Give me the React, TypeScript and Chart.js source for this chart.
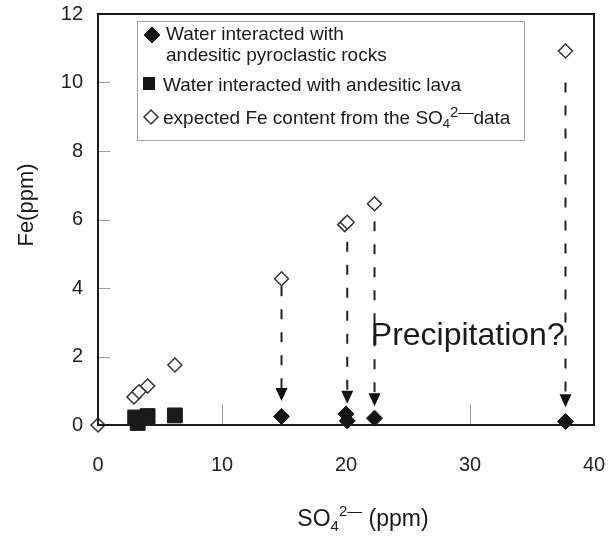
import React, { useEffect, useRef } from "react";
import { Chart, registerables } from "chart.js";
Chart.register(...registerables);

// Water interacted with andesitic pyroclastic rocks (filled diamonds)
const pyroX = [14.8, 20.0, 20.1, 22.3, 37.7];
const pyroY = [0.25, 0.32, 0.12, 0.2, 0.1];
// Water interacted with andesitic lava (filled squares)
const lavaX = [3.0, 3.2, 4.0, 6.2];
const lavaY = [0.22, 0.06, 0.26, 0.28];
// expected Fe content from the SO4 data (open diamonds)
const expX = [0, 2.9, 3.3, 4.0, 6.2, 14.8, 19.9, 20.1, 22.3, 37.7];
const expY = [0, 0.82, 0.97, 1.14, 1.75, 4.27, 5.85, 5.92, 6.46, 10.92];
// dashed arrows (x, from y, to y)
const arrowX = [14.8, 20.1, 22.3, 37.7];
const arrowFrom = [4.05, 5.35, 5.95, 10.0];
const arrowTo = [0.7, 0.62, 0.55, 0.52];
// axis ticks
const xTickValues = [10, 20, 30];
const yTickValues = [2, 4, 6, 8, 10];
const legendLine1 = ["Water interacted with", "andesitic pyroclastic rocks"];
const legendLine2 = "Water interacted with andesitic lava";
const legendLine3 = ["expected Fe content from the SO", "4", "2\u2014", "data"];
const annotationText = "Precipitation?";
const yTitle = "Fe(ppm)";

const FONT = '"Liberation Sans", Arial, sans-serif';

function toPts(xs: number[], ys: number[]) {
  return xs.map((x, i) => ({ x, y: ys[i] }));
}

function drawDiamond(ctx: CanvasRenderingContext2D, x: number, y: number, r: number, fill: string, stroke: string, lw: number) {
  ctx.beginPath();
  ctx.moveTo(x - r, y);
  ctx.lineTo(x, y - r);
  ctx.lineTo(x + r, y);
  ctx.lineTo(x, y + r);
  ctx.closePath();
  ctx.fillStyle = fill;
  ctx.fill();
  ctx.lineWidth = lw;
  ctx.strokeStyle = stroke;
  ctx.stroke();
}

type Part = { t: string; size: number; dy: number };
function drawRich(ctx: CanvasRenderingContext2D, parts: Part[], x: number, y: number, align: "left" | "center") {
  let total = 0;
  parts.forEach((p) => {
    ctx.font = `${p.size}px ${FONT}`;
    total += ctx.measureText(p.t).width;
  });
  let cx = align === "center" ? x - total / 2 : x;
  ctx.textAlign = "left";
  parts.forEach((p) => {
    ctx.font = `${p.size}px ${FONT}`;
    ctx.fillText(p.t, cx, y + p.dy);
    cx += ctx.measureText(p.t).width;
  });
}

const decor = {
  id: "decor",
  beforeDatasetsDraw(chart: any) {
    const ctx: CanvasRenderingContext2D = chart.ctx;
    const xs = chart.scales.x;
    const ys = chart.scales.y;
    const { left, bottom } = chart.chartArea;
    ctx.save();
    // inner tick marks
    ctx.strokeStyle = "#9a9a9a";
    ctx.lineWidth = 1;
    yTickValues.forEach((v) => {
      const py = Math.round(ys.getPixelForValue(v)) + 0.5;
      ctx.beginPath();
      ctx.moveTo(left, py);
      ctx.lineTo(left + 12, py);
      ctx.stroke();
    });
    xTickValues.forEach((v) => {
      const px = Math.round(xs.getPixelForValue(v)) + 0.5;
      ctx.beginPath();
      ctx.moveTo(px, bottom);
      ctx.lineTo(px, bottom - 20);
      ctx.stroke();
    });
    // arrows
    arrowX.forEach((ax, i) => {
      const px = xs.getPixelForValue(ax);
      const y0 = ys.getPixelForValue(arrowFrom[i]);
      const tip = ys.getPixelForValue(arrowTo[i]);
      const headH = 13;
      ctx.setLineDash([10, 13]);
      ctx.strokeStyle = "#222";
      ctx.lineWidth = 2;
      ctx.beginPath();
      ctx.moveTo(px, y0);
      ctx.lineTo(px, tip - headH);
      ctx.stroke();
      ctx.setLineDash([]);
      ctx.fillStyle = "#111";
      ctx.beginPath();
      ctx.moveTo(px - 6, tip - headH);
      ctx.lineTo(px + 6, tip - headH);
      ctx.lineTo(px, tip);
      ctx.closePath();
      ctx.fill();
    });
    ctx.restore();
  },
  afterDraw(chart: any) {
    const ctx: CanvasRenderingContext2D = chart.ctx;
    const { left, top, right, bottom } = chart.chartArea;
    const xs = chart.scales.x;
    const ys = chart.scales.y;
    ctx.save();
    // plot frame
    ctx.strokeStyle = "#1a1a1a";
    ctx.lineWidth = 2;
    ctx.strokeRect(left, top, right - left, bottom - top);

    // legend box
    const lx = left + 39;
    const ly = top + 7;
    ctx.fillStyle = "#fff";
    ctx.fillRect(lx, ly, 387, 119);
    ctx.strokeStyle = "#a0a0a0";
    ctx.lineWidth = 1;
    ctx.strokeRect(lx + 0.5, ly + 0.5, 387, 119);
    ctx.fillStyle = "#1a1a1a";
    ctx.textBaseline = "middle";
    ctx.font = `19px ${FONT}`;
    drawDiamond(ctx, lx + 15, ly + 14, 8, "#151515", "#151515", 1);
    ctx.fillStyle = "#1a1a1a";
    ctx.textAlign = "left";
    ctx.fillText(legendLine1[0], lx + 29, ly + 14);
    ctx.fillText(legendLine1[1], lx + 29, ly + 35);
    ctx.fillStyle = "#151515";
    ctx.fillRect(lx + 6, ly + 56, 12, 13);
    ctx.fillStyle = "#1a1a1a";
    ctx.fillText(legendLine2, lx + 26, ly + 65);
    drawDiamond(ctx, lx + 14, ly + 96, 7, "#fff", "#333", 1.5);
    ctx.fillStyle = "#1a1a1a";
    ctx.textBaseline = "alphabetic";
    drawRich(
      ctx,
      [
        { t: legendLine3[0], size: 19, dy: 0 },
        { t: legendLine3[1], size: 13, dy: 4 },
        { t: legendLine3[2], size: 15, dy: -7 },
        { t: legendLine3[3], size: 19, dy: 0 },
      ],
      lx + 26,
      ly + 103,
      "left"
    );

    // annotation
    ctx.font = `32px ${FONT}`;
    ctx.textBaseline = "middle";
    ctx.textAlign = "left";
    ctx.fillStyle = "#1a1a1a";
    ctx.fillText(annotationText, xs.getPixelForValue(22.0), ys.getPixelForValue(2.6));

    // x title
    ctx.textBaseline = "alphabetic";
    drawRich(
      ctx,
      [
        { t: "SO", size: 23, dy: 0 },
        { t: "4", size: 15, dy: 5 },
        { t: "2\u2014", size: 15, dy: -10 },
        { t: " (ppm)", size: 23, dy: 0 },
      ],
      (left + right) / 2 + 17,
      526,
      "center"
    );

    // y title
    ctx.translate(27, 205);
    ctx.rotate(-Math.PI / 2);
    ctx.font = `22px ${FONT}`;
    ctx.textAlign = "center";
    ctx.textBaseline = "middle";
    ctx.fillText(yTitle, 0, 0);
    ctx.restore();
  },
};

export default function App() {
  const ref = useRef<HTMLCanvasElement>(null);
  useEffect(() => {
    if (!ref.current) return;
    const chart = new Chart(ref.current, {
      type: "scatter",
      data: {
        datasets: [
          {
            label: "Water interacted with andesitic pyroclastic rocks",
            data: toPts(pyroX, pyroY),
            pointStyle: "rectRot",
            pointRadius: 8,
            backgroundColor: "#151515",
            borderColor: "#151515",
            borderWidth: 1,
            clip: false,
          } as any,
          {
            label: "Water interacted with andesitic lava",
            data: toPts(lavaX, lavaY),
            pointStyle: "rect",
            pointRadius: 10.5,
            backgroundColor: "#1a1a1a",
            borderColor: "#1a1a1a",
            borderWidth: 1,
            clip: false,
          } as any,
          {
            label: "expected Fe content from the SO4 data",
            data: toPts(expX, expY),
            pointStyle: "rectRot",
            pointRadius: 7,
            backgroundColor: "#ffffff",
            borderColor: "#333333",
            borderWidth: 1.5,
            clip: false,
          } as any,
        ],
      },
      options: {
        animation: false,
        responsive: false,
        layout: { padding: { left: 0, top: 14, right: 15, bottom: 0 } },
        plugins: { legend: { display: false }, tooltip: { enabled: false } },
        scales: {
          x: {
            type: "linear",
            min: 0,
            max: 40,
            ticks: { stepSize: 10, padding: 28, color: "#222", font: { size: 20, family: FONT } },
            grid: { display: false, drawTicks: false },
            border: { display: false },
            afterFit: (s: any) => {
              s.height = 111;
              s.paddingLeft = 0;
              s.paddingRight = 0;
            },
          },
          y: {
            type: "linear",
            min: 0,
            max: 12,
            ticks: { stepSize: 2, padding: 15, color: "#222", font: { size: 20, family: FONT } },
            grid: { display: false, drawTicks: false },
            border: { display: false },
            afterFit: (s: any) => {
              s.width = 98;
              s.paddingTop = 0;
              s.paddingBottom = 0;
            },
          },
        },
      },
      plugins: [decor],
    });
    return () => chart.destroy();
  }, []);
  return (
    <div style={{ position: "fixed", left: 0, top: 0, width: 609, height: 536, background: "#fff" }}>
      <canvas ref={ref} width={609} height={536} style={{ display: "block" }} />
    </div>
  );
}
